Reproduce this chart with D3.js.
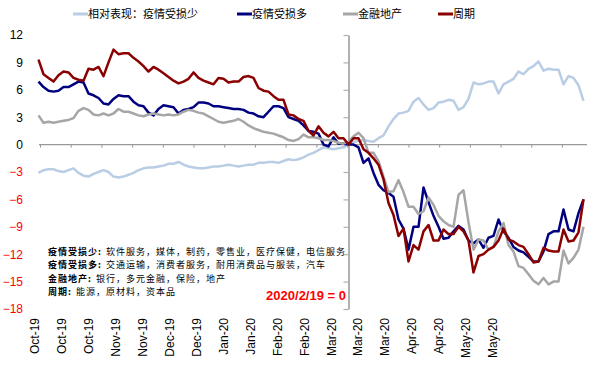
<!DOCTYPE html>
<html lang="zh">
<head>
<meta charset="UTF-8">
<title>疫情受损行业相对表现</title>
<script src="https://d3js.org/d3.v7.min.js"></script>
<style>
  body { margin: 0; background: #fff; }
  svg { display: block; }
</style>
</head>
<body>
<svg id="chart" width="596" height="367"></svg>
<script>
// category labels under the plot and the y ticks
const monthLabels = ["Oct-19","Oct-19","Oct-19","Nov-19","Nov-19","Dec-19","Dec-19","Jan-20","Jan-20",
                     "Feb-20","Feb-20","Mar-20","Mar-20","Mar-20","Apr-20","Apr-20","May-20","May-20"];
const yTicks = [12, 9, 6, 3, 0, -3, -6, -9, -12, -15, -18];
const baseIndex = 62;          // 2020/2/19, the day everything is set to 0

// series, one value per observation (relative performance)
const lessHit = [
  -3.1,-2.8,-2.7,-2.7,-2.9,-3.0,-2.8,-2.6,-3.1,-3.4,
  -3.5,-3.2,-3.0,-2.8,-3.0,-3.5,-3.6,-3.5,-3.3,-3.1,
  -2.8,-2.6,-2.5,-2.5,-2.4,-2.3,-2.1,-2.1,-1.9,-2.2,
  -2.4,-2.5,-2.6,-2.6,-2.5,-2.4,-2.4,-2.3,-2.2,-2.3,
  -2.4,-2.3,-2.2,-2.2,-2.0,-2.0,-1.9,-1.9,-2.0,-1.8,
  -1.6,-1.7,-1.6,-1.4,-1.1,-0.9,-0.6,-0.3,-0.4,-0.5,
  -0.4,-0.3,0.0,0.3,0.4,0.5,0.4,0.3,0.7,1.0,
  2.0,2.8,3.4,3.5,3.7,4.7,5.1,4.4,3.8,4.0,
  4.6,4.7,4.9,4.8,3.8,4.1,5.0,6.8,6.6,6.7,
  6.9,6.9,5.6,6.6,6.9,7.2,8.0,7.7,8.3,8.6,
  9.1,8.1,8.3,8.2,8.2,6.6,7.5,7.3,6.5,4.8
];
const moreHit = [
  6.9,6.3,5.9,5.8,5.9,6.3,6.3,6.6,6.9,6.8,
  5.6,5.4,5.1,4.5,4.4,5.0,5.4,5.3,5.3,4.7,
  4.3,4.2,3.5,3.2,3.9,4.3,4.2,4.1,3.4,3.8,
  3.9,4.1,4.6,4.6,4.5,4.2,4.2,4.1,4.0,3.9,
  3.9,3.8,3.5,3.4,3.1,3.0,3.6,4.2,4.2,4.0,
  3.0,2.8,2.6,2.1,1.5,1.4,1.2,0.0,-0.2,0.8,
  0.1,0.1,0.0,0.0,-0.3,-2.0,-1.5,-3.1,-4.4,-5.0,
  -5.3,-5.7,-8.2,-9.2,-11.5,-9.0,-9.0,-4.7,-6.3,-7.8,
  -9.0,-10.3,-10.2,-9.5,-8.9,-9.3,-10.5,-10.8,-10.4,-11.3,
  -10.2,-10.0,-8.2,-9.5,-10.2,-11.2,-11.6,-11.8,-12.3,-12.8,
  -12.8,-11.7,-9.8,-9.5,-9.5,-7.1,-9.3,-9.5,-7.5,-6.0
];
const finance = [
  3.2,2.4,2.5,2.4,2.5,2.6,2.7,2.9,3.7,4.0,
  3.8,3.3,3.2,3.4,3.2,3.4,3.9,3.6,3.6,3.4,
  3.2,3.1,3.3,3.4,3.3,3.2,3.3,3.2,3.3,3.6,
  3.8,3.7,3.5,3.4,3.1,2.8,2.5,2.4,2.5,2.6,
  2.8,2.5,2.1,1.8,1.6,1.4,1.3,1.2,1.0,0.8,
  0.5,0.4,0.6,1.1,0.8,0.8,0.7,0.5,0.5,0.4,
  0.2,0.1,0.3,0.9,1.3,0.7,-0.9,-0.9,-1.8,-3.5,
  -5.2,-5.1,-3.9,-5.2,-6.8,-6.8,-7.6,-7.3,-5.8,-6.6,
  -7.8,-8.4,-8.8,-9.0,-5.5,-5.0,-8.5,-11.5,-10.4,-10.5,
  -11.5,-11.2,-9.5,-8.6,-11.0,-11.7,-13.3,-13.5,-14.2,-14.9,
  -15.3,-14.6,-15.3,-15.0,-15.0,-11.6,-13.0,-12.4,-11.5,-9.0
];
const cyclical = [
  9.3,7.7,7.3,6.9,7.6,8.0,7.9,7.3,7.1,7.0,
  8.3,8.2,8.5,7.5,9.0,10.4,9.9,10.0,10.0,9.5,
  9.1,8.6,8.0,8.5,8.2,7.8,7.4,7.0,6.7,6.9,
  7.2,7.9,7.3,7.0,6.8,6.6,7.3,7.2,6.8,6.9,
  6.9,7.4,7.5,7.3,6.2,5.9,5.8,5.3,4.9,4.9,
  3.3,3.2,2.8,2.6,1.5,1.0,2.0,1.3,0.9,1.4,
  0.7,0.7,0.0,0.7,0.7,-0.5,-0.9,-1.5,-2.2,-3.8,
  -6.4,-7.7,-10.0,-9.2,-12.8,-11.0,-11.5,-9.5,-8.8,-10.5,
  -10.5,-9.3,-9.8,-9.8,-9.0,-9.5,-10.5,-14.0,-12.2,-12.0,
  -11.5,-11.2,-10.5,-9.2,-10.4,-10.6,-11.0,-11.2,-12.0,-12.9,
  -12.8,-11.3,-11.6,-11.7,-11.7,-9.3,-10.6,-10.5,-9.6,-6.0
];

const series = [
  { name: "相对表现：疫情受损少", values: lessHit,  color: "#B9CDE5" },
  { name: "疫情受损多",           values: moreHit,  color: "#000080" },
  { name: "金融地产",             values: finance,  color: "#A6A6A6" },
  { name: "周期",                 values: cyclical, color: "#8B0000" }
];

const notes = [
  ["疫情受损少:", "软件服务，媒体，制药，零售业，医疗保健，电信服务"],
  ["疫情受损多:", "交通运输，消费者服务，耐用消费品与服装，汽车"],
  ["金融地产:", "银行，多元金融，保险，地产"],
  ["周期:", "能源，原材料，资本品"]
];

const latin = "'Liberation Sans', Arial, sans-serif";
const cjk = "'Noto Sans CJK SC', 'Noto Sans', sans-serif";

const svg = d3.select("#chart");
const n = cyclical.length;

const x = d3.scaleLinear().domain([0, n - 1]).range([38.5, 583.5]);
const y = d3.scaleLinear().domain([-18, 12]).range([309, 35]);
const tickX = d3.scalePoint().domain(d3.range(monthLabels.length)).range([40, 562]);
const labelX = d3.scalePoint().domain(d3.range(monthLabels.length)).range([35, 493]);

// y labels, negatives in red
const yAxis = svg.append("g")
    .attr("transform", "translate(26,0)")
    .call(d3.axisLeft(y).tickValues(yTicks).tickSize(0).tickPadding(3));
yAxis.select(".domain").remove();
yAxis.selectAll("text")
    .attr("font-family", latin)
    .attr("font-size", 12)
    .attr("fill", d => d < 0 ? "#FF0000" : "#000");

// zero line with category ticks
const zero = svg.append("g")
    .attr("transform", `translate(0,${y(0)})`)
    .call(d3.axisBottom(tickX).tickSize(3).tickFormat(""));
zero.select(".domain").remove();
zero.selectAll(".tick line").attr("stroke", "#999");
zero.append("line")
    .attr("x1", 39).attr("x2", 587)
    .attr("stroke", "#999").attr("stroke-width", 1.2);

// vertical line at the base date
const base = svg.append("g")
    .attr("transform", `translate(${x(baseIndex)},0)`)
    .call(d3.axisLeft(y).tickValues(yTicks).tickSize(5).tickSizeOuter(0).tickFormat(""));
base.select(".domain").attr("stroke", "#B0B0B0").attr("stroke-width", 2);
base.selectAll(".tick line").attr("stroke", "#B0B0B0").attr("stroke-width", 1.2);

// month labels, rotated
svg.append("g").selectAll("text")
  .data(monthLabels)
  .join("text")
    .attr("transform", (d, i) => `translate(${labelX(i)},318) rotate(-90)`)
    .attr("text-anchor", "end")
    .attr("dy", "0.35em")
    .attr("font-family", latin)
    .attr("font-size", 12)
    .attr("fill", "#000")
    .text(d => d);

// lines
const line = d3.line()
    .x((d, i) => x(i))
    .y(d => y(d));

svg.append("g").selectAll("path")
  .data(series)
  .join("path")
    .attr("fill", "none")
    .attr("stroke", d => d.color)
    .attr("stroke-width", 2.5)
    .attr("stroke-linejoin", "round")
    .attr("d", d => line(d.values));

// legend
const legendX = [73, 237, 343, 438];
const legend = svg.append("g").selectAll("g")
  .data(series)
  .join("g")
    .attr("transform", (d, i) => `translate(${legendX[i]},14)`);
legend.append("line")
    .attr("x1", 0).attr("x2", 15)
    .attr("stroke", d => d.color)
    .attr("stroke-width", 3);
legend.append("text")
    .attr("x", 15)
    .attr("dy", "0.35em")
    .attr("font-family", cjk)
    .attr("font-size", 11)
    .attr("fill", "#000")
    .text(d => d.name);

// notes block: bold group name, then its industries
const noteRows = svg.append("g").selectAll("g")
  .data(notes)
  .join("g")
    .attr("transform", (d, i) => `translate(48,${255 + i * 13.4})`);
noteRows.append("text")
    .attr("class", "head")
    .attr("font-family", cjk)
    .attr("font-size", 9)
    .attr("font-weight", "bold")
    .attr("letter-spacing", 1)
    .attr("fill", "#000")
    .text(d => d[0]);
noteRows.each(function() {
  const row = d3.select(this);
  const w = row.select(".head").node().getComputedTextLength();
  row.append("text")
      .attr("x", w + 4)
      .attr("font-family", cjk)
      .attr("font-size", 9)
      .attr("letter-spacing", 1)
      .attr("fill", "#000")
      .text(d => d[1]);
});

svg.append("text")
    .attr("x", 346)
    .attr("y", 300)
    .attr("text-anchor", "end")
    .attr("font-family", latin)
    .attr("font-size", 13)
    .attr("font-weight", "bold")
    .attr("fill", "#FF0000")
    .text("2020/2/19 = 0");
</script>
</body>
</html>
